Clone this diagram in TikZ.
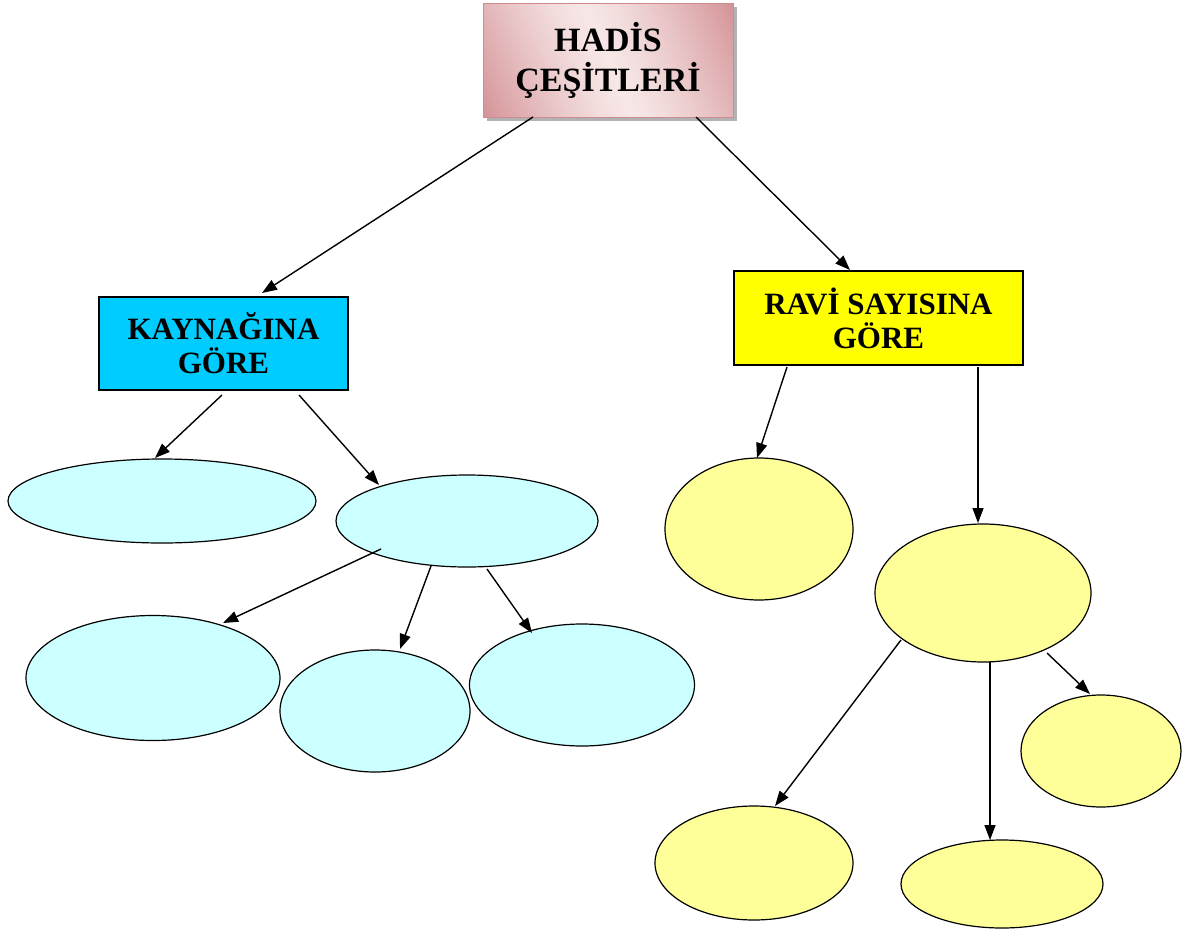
\documentclass[tikz,border=0pt]{standalone}
\usepackage{fontspec}
\setmainfont{Liberation Serif}
\usetikzlibrary{shapes.geometric,arrows.meta}
\definecolor{pinkdark}{RGB}{212,146,150}
\definecolor{pinklight}{RGB}{247,231,231}
\definecolor{pinkedge}{RGB}{205,140,145}
\definecolor{boxblue}{RGB}{0,204,255}
\definecolor{boxyellow}{RGB}{255,255,0}
\definecolor{ellblue}{RGB}{204,255,255}
\definecolor{ellyellow}{RGB}{255,255,153}
\tikzset{
  catbox/.style={draw=black, line width=1.2pt, rectangle, inner sep=0pt, align=center,
    font=\fontsize{31}{34}\selectfont\bfseries},
  topbox/.style={draw=pinkedge, line width=1pt, rectangle, inner sep=0pt, align=center,
    font=\fontsize{34}{40}\selectfont\bfseries},
  leaf/.style={draw=black, line width=1.2pt, ellipse, inner sep=0pt},
  arr/.style={line width=1.4pt, -{Triangle[length=15pt,width=11pt]}},
}
\begin{document}
\begin{tikzpicture}[x=1pt,y=-1pt]
\useasboundingbox (0,0) rectangle (1192,932);
% shadow of top box
\fill[gray!60] (487,7) rectangle (737,121);
% gradient fill of top box
\begin{scope}
  \clip (483,3) rectangle (733,117);
  \begin{scope}[shift={(608,60)}, rotate=24]
    \foreach \i in {0,...,79}{
      \pgfmathsetmacro{\d}{abs(2*\i/79-1)}
      \pgfmathsetmacro{\p}{100*(\d^1.3)}
      \fill[pinkdark!\p!pinklight] ({-140+3.5*\i},-150) rectangle ({-140+3.5*\i+4},150);
    }
  \end{scope}
\end{scope}
\node[topbox, minimum width=250pt, minimum height=114pt] (top) at (608,60) {HADİS\\ÇEŞİTLERİ};
\node[catbox, fill=boxblue, minimum width=249pt, minimum height=93pt] (kay) at (223.5,343.5) {KAYNAĞINA\\GÖRE};
\node[catbox, fill=boxyellow, minimum width=289pt, minimum height=94pt] (ravi) at (878.5,318) {RAVİ SAYISINA\\GÖRE};
% blue ellipses
\node[leaf, fill=ellblue, minimum width=308pt, minimum height=84pt] (e1) at (162,501) {};
\node[leaf, fill=ellblue, minimum width=262pt, minimum height=92pt] (e2) at (467,521) {};
\node[leaf, fill=ellblue, minimum width=254pt, minimum height=125pt] (e3) at (153,678) {};
\node[leaf, fill=ellblue, minimum width=190pt, minimum height=122pt] (e4) at (375,711) {};
\node[leaf, fill=ellblue, minimum width=225pt, minimum height=122pt] (e5) at (582,685) {};
% yellow ellipses
\node[leaf, fill=ellyellow, minimum width=188pt, minimum height=142pt] (y1) at (759,529) {};
\node[leaf, fill=ellyellow, minimum width=216pt, minimum height=138pt] (y2) at (983,593) {};
\node[leaf, fill=ellyellow, minimum width=160pt, minimum height=112pt] (y3) at (1101,751) {};
\node[leaf, fill=ellyellow, minimum width=198pt, minimum height=114pt] (y4) at (754,863) {};
\node[leaf, fill=ellyellow, minimum width=202pt, minimum height=88pt] (y5) at (1002,884) {};
% connector end points
\coordinate (a1s) at (533,117); \coordinate (a1e) at (262,293);
\coordinate (a2s) at (696,117); \coordinate (a2e) at (850,270);
\coordinate (b1s) at (222,395); \coordinate (b1e) at (155,458);
\coordinate (b2s) at (299,395); \coordinate (b2e) at (379,485);
\coordinate (c1s) at (381,549); \coordinate (c1e) at (223,623);
\coordinate (c2s) at (431,566); \coordinate (c2e) at (400,649);
\coordinate (c3s) at (487,569); \coordinate (c3e) at (532,633);
\coordinate (d1s) at (787,367); \coordinate (d1e) at (757,458);
\coordinate (d2s) at (978,367); \coordinate (d2e) at (978,523);
\coordinate (f1s) at (901,640); \coordinate (f1e) at (775,806);
\coordinate (f2s) at (990,662); \coordinate (f2e) at (990,840);
\coordinate (f3s) at (1047,653); \coordinate (f3e) at (1090,694);
\draw[arr] (a1s) -- (a1e);
\draw[arr] (a2s) -- (a2e);
\draw[arr] (b1s) -- (b1e);
\draw[arr] (b2s) -- (b2e);
\draw[arr] (c1s) -- (c1e);
\draw[arr] (c2s) -- (c2e);
\draw[arr] (c3s) -- (c3e);
\draw[arr] (d1s) -- (d1e);
\draw[arr] (d2s) -- (d2e);
\draw[arr] (f1s) -- (f1e);
\draw[arr] (f2s) -- (f2e);
\draw[arr] (f3s) -- (f3e);
\end{tikzpicture}
\end{document}
